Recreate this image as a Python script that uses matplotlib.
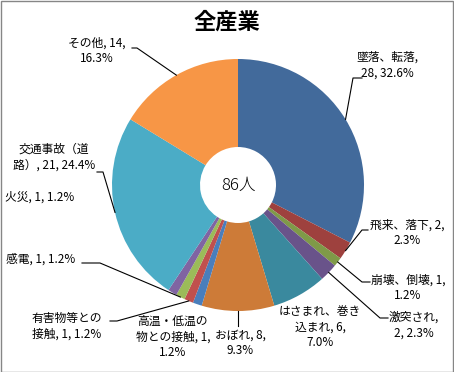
import numpy as np
import matplotlib

matplotlib.use("Agg")
import matplotlib.pyplot as plt
from matplotlib.patches import Rectangle

plt.rcParams["font.family"] = ["Noto Sans CJK JP", "DejaVu Sans"]

TITLE = "全産業"
TOTAL_LABEL = "86人"
categories = [
    "墜落、転落", "飛来、落下", "崩壊、倒壊", "激突され", "はさまれ、巻き込まれ", "おぼれ",
    "高温・低温の物との接触", "有害物等との接触", "感電", "火災", "交通事故（道路）", "その他",
]
counts = [28, 2, 1, 2, 6, 8, 1, 1, 1, 1, 21, 14]
percents = [32.6, 2.3, 1.2, 2.3, 7.0, 9.3, 1.2, 1.2, 1.2, 1.2, 24.4, 16.3]
# label text with Excel-style wrapping
label_texts = [
    "墜落、転落,\n28, 32.6%",
    "飛来、落下, 2,\n2.3%",
    "崩壊、倒壊, 1,\n1.2%",
    "激突され,\n2, 2.3%",
    "はさまれ、巻き\n込まれ, 6,\n7.0%",
    "おぼれ, 8,\n9.3%",
    "高温・低温の\n物との接触, 1,\n1.2%",
    "有害物等との\n接触, 1, 1.2%",
    "感電, 1, 1.2%",
    "火災, 1, 1.2%",
    "交通事故（道\n路）, 21, 24.4%",
    "その他, 14,\n16.3%",
]
colors = [
    "#426A9B", "#9E413E", "#7F9A48", "#69538A", "#3A899E", "#CD7B38",
    "#4A7EBB", "#C0504D", "#9BBB59", "#8064A2", "#4BACC6", "#F79646",
]

# layout (pixels)
W, H = 454, 372
CX, CY, R, R_HOLE = 238, 185, 126, 38
label_pos = [
    (387, 65), (407, 233), (408, 288), (414, 325), (320, 327), (240, 343),
    (173, 337), (67, 326), (41, 259), (40, 197), (54, 157), (97, 51),
]
# (elbow, stub end) for leader lines; None = no leader
leaders = [
    ((353, 78), (362, 78)),
    ((362, 230), (368, 230)),
    ((362, 282), (370, 282)),
    ((380, 318), (388, 318)),
    None,
    ((238, 326), None),
    None,
    ((117, 321), (110, 321)),
    ((100, 263), (82, 263)),
    None,
    ((103, 172), (97, 172)),
    ((137, 48), (132, 48)),
]

fig = plt.figure(figsize=(W / 100, H / 100), dpi=100)
ax = fig.add_axes([0, 0, 1, 1])
ax.axis("off")

# y axis is inverted: startangle -90 points up, counterclock=True runs clockwise on screen
ax.pie(
    counts,
    colors=colors,
    startangle=-90,
    counterclock=True,
    center=(CX, CY),
    radius=R,
    wedgeprops=dict(width=R - R_HOLE, linewidth=0),
)
ax.set_xlim(0, W)
ax.set_ylim(H, 0)
ax.set_aspect("equal")

total = sum(counts)
cum = np.cumsum([0] + counts[:-1])
for i, text in enumerate(label_texts):
    x, y = label_pos[i]
    ax.text(x, y, text, ha="center", va="center", fontsize=8.5, linespacing=1.25)
    if leaders[i] is None:
        continue
    frac = (cum[i] + counts[i] / 2) / total
    ang = 2 * np.pi * frac
    ax_x = CX + R * np.sin(ang)
    ax_y = CY - R * np.cos(ang)
    elbow, stub = leaders[i]
    xs = [ax_x, elbow[0]]
    ys = [ax_y, elbow[1]]
    if stub is not None:
        xs.append(stub[0])
        ys.append(stub[1])
    ax.plot(xs, ys, color="black", linewidth=0.8)

ax.text(CX, CY, TOTAL_LABEL, ha="center", va="center", fontsize=12, fontweight="light")
ax.text(227, 22, TITLE, ha="center", va="center", fontsize=16, fontweight="bold")

fig.patches.append(Rectangle((0.5 / W, 0.5 / H), 1 - 1.5 / W, 1 - 1.5 / H,
                             transform=fig.transFigure, fill=False,
                             edgecolor="#868686", linewidth=1))

fig.savefig("out.png", dpi=100)
